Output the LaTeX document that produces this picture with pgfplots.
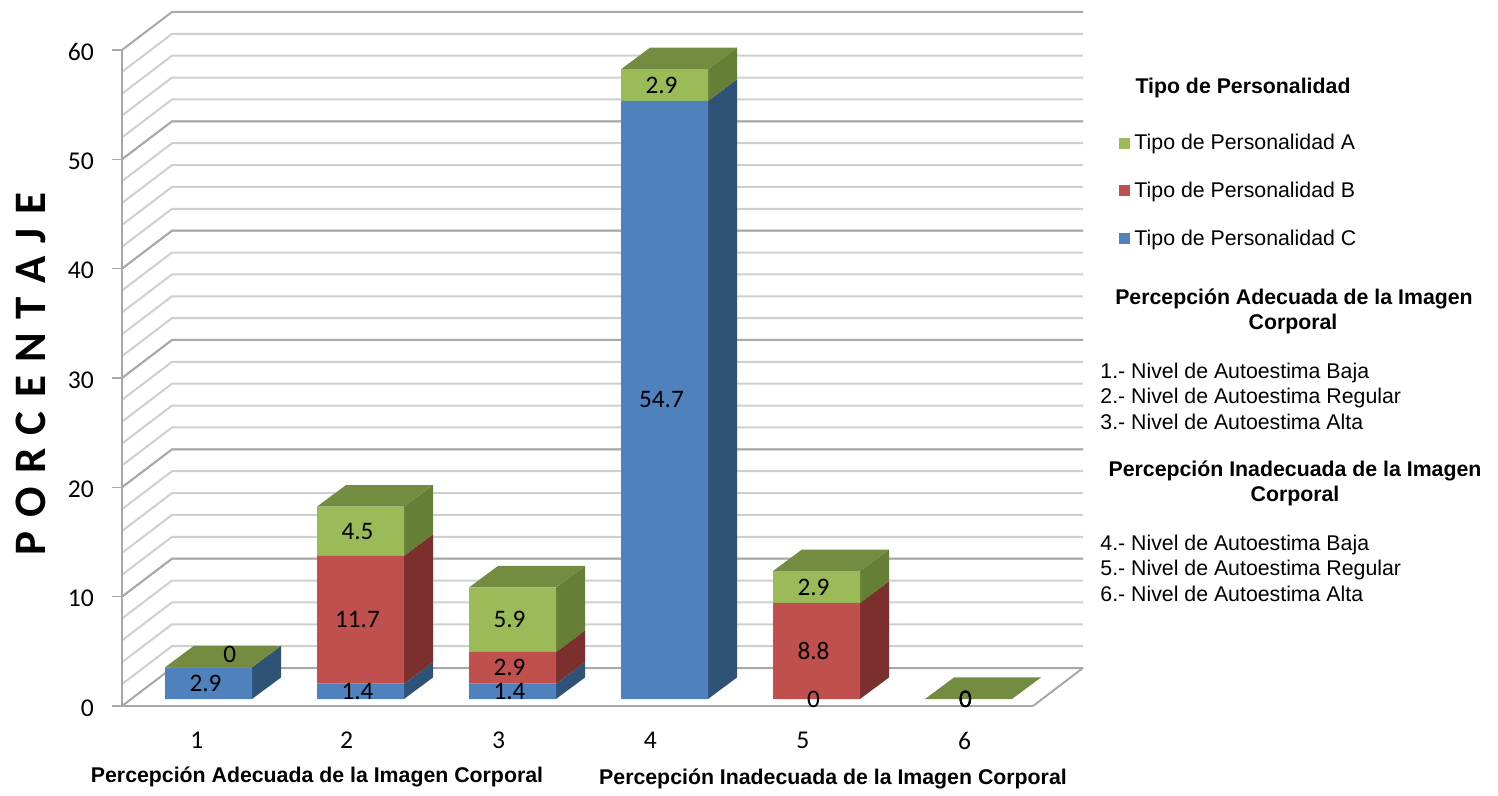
\documentclass[border=0pt]{standalone}
\usepackage{pgfplots}
\usepackage{pgfplotstable}
\usepackage{fontspec}
\pgfplotsset{compat=1.18}
\setmainfont{Carlito}
\newfontfamily\arial{Liberation Sans}

\definecolor{cblue}{HTML}{4F81BD}
\definecolor{cblueside}{HTML}{2F5277}
\definecolor{cred}{HTML}{C0504D}
\definecolor{credside}{HTML}{7C302E}
\definecolor{cgreen}{HTML}{9BBB59}
\definecolor{cgreenside}{HTML}{667F36}
\definecolor{cgreentop}{HTML}{748C42}
\definecolor{gridminor}{HTML}{CFCFCF}
\definecolor{gridmajor}{HTML}{A8A8A8}

% porcentaje por nivel (1-6) y tipo de personalidad
\pgfplotstableread{
nivel C B A
1 2.9 0 0
2 1.4 11.7 4.5
3 1.4 2.9 5.9
4 54.7 0 2.9
5 0 8.8 2.9
6 0 0 0
}\datos

% half bar width, depth in x and in y, all in data units of the bar axis
\def\hw{0.2862}
\def\dpx{0.1908}
\def\dpy{1.97}

\newcommand{\sideface}[4]{%
  \pgfmathsetmacro\xa{#1+\hw}\pgfmathsetmacro\xb{#1+\hw+\dpx}%
  \pgfmathsetmacro\ya{#2+\dpy}\pgfmathsetmacro\yb{#3+\dpy}%
  \addplot[draw=none,fill=#4,forget plot] coordinates {(\xa,#2) (\xb,\ya) (\xb,\yb) (\xa,#3)} --cycle;
}
\newcommand{\topface}[2]{%
  \pgfmathsetmacro\xa{#1-\hw}\pgfmathsetmacro\xb{#1+\hw}%
  \pgfmathsetmacro\xc{#1-\hw+\dpx}\pgfmathsetmacro\xd{#1+\hw+\dpx}%
  \pgfmathsetmacro\ya{#2+\dpy}%
  \addplot[draw=none,fill=cgreentop,forget plot] coordinates {(\xa,#2) (\xb,#2) (\xd,\ya) (\xc,\ya)} --cycle;
}
\newcommand{\lab}[3]{\node[font=\fontsize{12.6pt}{13pt}\selectfont,xshift=-1.5pt] at (axis cs:#1,#2) {#3};}

\pgfplotsset{
  baraxis/.style={
    scale only axis, width=455.5pt, height=328pt,
    xmin=0.43092, xmax=6.42434, ymin=0, ymax=60,
    clip=false, hide axis, yshift=3.5pt,
  }
}

\begin{document}
\begin{tikzpicture}
\begin{scope}[x=0.5pt,y=-0.5pt,shift={(-61pt,353pt)}]
  \useasboundingbox (0,0) rectangle (1498,790);
  % walls
  \foreach \i in {1,...,29} {
    \pgfmathsetmacro\yy{706-21.867*\i}
    \draw[gridminor,line width=1pt] (122,\yy) -- ++(50,-38) -- (1083,{\yy-38});
  }
  \foreach \i in {0,...,6} {
    \pgfmathsetmacro\yy{706-109.333*\i}
    \draw[gridmajor,line width=1pt] (122,\yy) -- ++(50,-38) -- (1083,{\yy-38});
  }
  \draw[gridmajor,line width=1pt] (1033,706) -- (1083,668);
\end{scope}

% frame, ticks
\begin{axis}[
  scale only axis, width=455.5pt, height=328pt,
  xmin=0.5, xmax=6.5, ymin=0, ymax=60,
  axis lines*=left, axis line style={gridmajor,line width=1.1pt,-},
  xtick={0.993,1.98,2.98,3.98,4.985,6.05}, xticklabels={1,2,3,4,5,6},
  ytick={0,10,...,60},
  tick style={gridmajor,line width=0.8pt},
  xtick style={draw=none},
  ytick align=outside, tick pos=left,
  major tick length=5pt,
  /pgf/number format/assume math mode=true,
  tick label style={font=\fontsize{12.8pt}{13pt}\selectfont,black},
  xticklabel style={yshift=-9.5pt},
  yticklabel style={yshift=-1pt,xshift=-5.5pt},
  clip=false,
]
\end{axis}

% depth faces
\begin{axis}[baraxis]
  \sideface{1}{0}{2.9}{cblueside}
  \topface{1}{2.9}
  \sideface{2}{0}{1.4}{cblueside}
  \sideface{2}{1.4}{13.1}{credside}
  \sideface{2}{13.1}{17.6}{cgreenside}
  \topface{2}{17.6}
  \sideface{3}{0}{1.4}{cblueside}
  \sideface{3}{1.4}{4.3}{credside}
  \sideface{3}{4.3}{10.2}{cgreenside}
  \topface{3}{10.2}
  \sideface{4}{0}{54.7}{cblueside}
  \sideface{4}{54.7}{57.6}{cgreenside}
  \topface{4}{57.6}
  \sideface{5}{0}{8.8}{credside}
  \sideface{5}{8.8}{11.7}{cgreenside}
  \topface{5}{11.7}
  \topface{6}{0}
\end{axis}

% front faces
\begin{axis}[baraxis,
  ybar stacked, bar width=43.5pt,
  reverse legend,
  legend image code/.code={\fill[#1] (0pt,-2.75pt) rectangle (5.5pt,2.75pt);},
  legend cell align=left,
  legend style={at={(1.0945,0.862)},anchor=north west,draw=none,fill=none,
    row sep=14.7pt,font=\arial\fontsize{10.65pt}{11pt}\selectfont,
    inner xsep=0pt,inner ysep=0pt,
    nodes={inner xsep=2pt,inner ysep=0pt}},
]
  \addplot[draw=none,fill=cblue] table[x=nivel,y=C] {\datos};
  \addplot[draw=none,fill=cred] table[x=nivel,y=B] {\datos};
  \addplot[draw=none,fill=cgreen] table[x=nivel,y=A] {\datos};
  \legend{Tipo de Personalidad C,Tipo de Personalidad B,Tipo de Personalidad A}
\end{axis}

% value labels, above the bars
\begin{axis}[baraxis]
  \lab{1.16}{4.12}{0}
  \lab{1}{1.45}{2.9}
  \lab{2}{0.7}{1.4}
  \lab{2}{7.25}{11.7}
  \lab{2}{15.35}{4.5}
  \lab{3}{0.7}{1.4}
  \lab{3}{2.85}{2.9}
  \lab{3}{7.25}{5.9}
  \lab{4}{27.35}{54.7}
  \lab{4}{56.15}{2.9}
  \lab{5}{0}{0}
  \lab{5}{4.4}{8.8}
  \lab{5}{10.25}{2.9}
  \lab{6}{0}{0}
  \lab{6}{0}{0}
  \lab{6}{0}{0}
\end{axis}

% texts around the chart
\begin{scope}[x=0.5pt,y=-0.5pt,shift={(-61pt,353pt)}]
  \node[rotate=90] at (31,374) {\bfseries\fontsize{22.5pt}{24pt}\selectfont\spaceskip=6.7pt P O R C E N T A J E};
  \begin{scope}[every node/.style={font=\arial\bfseries\fontsize{10.65pt}{11pt}\selectfont}]
    \node at (317,777) {Percepción Adecuada de la Imagen Corporal};
    \node at (833,779) {Percepción Inadecuada de la Imagen Corporal};
    \node at (1243,88) {Tipo de Personalidad};
    \node at (1294,299) {Percepción Adecuada de la Imagen};
    \node at (1293,324) {Corporal};
    \node at (1295,471) {Percepción Inadecuada de la Imagen};
    \node at (1295,496) {Corporal};
  \end{scope}
  \begin{scope}[every node/.style={anchor=west,inner xsep=0pt,font=\arial\fontsize{10.65pt}{11pt}\selectfont}]
    \node at (1100,373) {1.- Nivel de Autoestima Baja};
    \node at (1100,398) {2.- Nivel de Autoestima Regular};
    \node at (1100,422) {3.- Nivel de Autoestima Alta};
    \node at (1100,545) {4.- Nivel de Autoestima Baja};
    \node at (1100,570) {5.- Nivel de Autoestima Regular};
    \node at (1100,594) {6.- Nivel de Autoestima Alta};
  \end{scope}
\end{scope}
\end{tikzpicture}
\end{document}
